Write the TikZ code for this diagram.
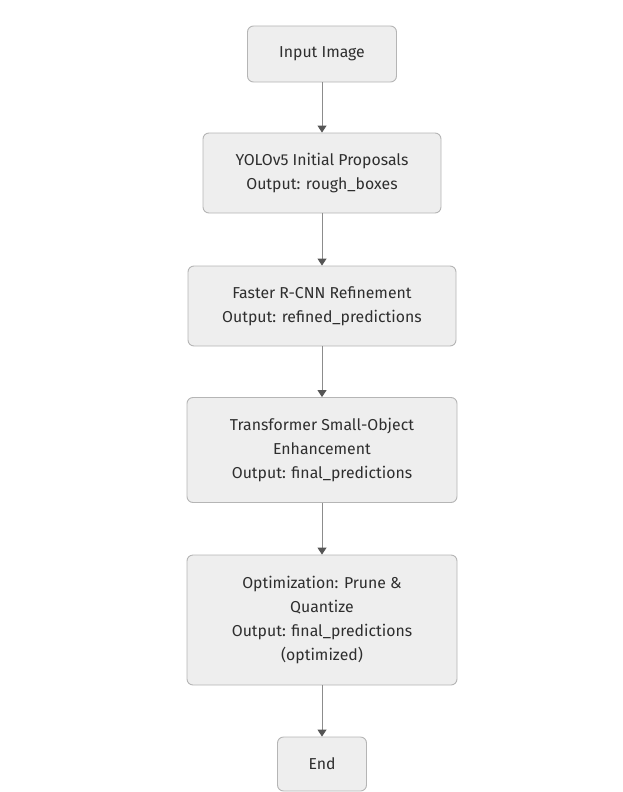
\documentclass[tikz,border=0pt]{standalone}
\usepackage{fontspec}
\setmainfont{Fira Sans}
\usetikzlibrary{arrows.meta}
\definecolor{boxfill}{HTML}{EEEEEE}
\definecolor{boxline}{HTML}{B5B5B5}
\definecolor{flowline}{HTML}{8C8C8C}
\definecolor{tipcol}{HTML}{555555}
\tikzset{
  stage/.style={draw=boxline, fill=boxfill, rounded corners=6pt, line width=0.9pt,
    align=center, font=\fontsize{15.8}{24}\selectfont, text=black!82, inner sep=0pt},
  flow/.style={draw=flowline, line width=1pt,
    -{Triangle[width=9pt,length=7pt,color=tipcol,fill=tipcol]}}
}

\begin{document}
\begin{tikzpicture}[x=1pt,y=-1pt]
      \useasboundingbox (0,0) rectangle (622,792);
      \node[stage, minimum width=149pt, minimum height=56pt] (input) at (322,54) {Input Image};
      \node[stage, minimum width=238pt, minimum height=80pt] (yolo) at (322,173) {YOLOv5 Initial Proposals\\Output: rough\_boxes};
      \node[stage, minimum width=268pt, minimum height=80pt] (rcnn) at (322,306) {Faster R-CNN Refinement\\Output: refined\_predictions};
      \node[stage, minimum width=270pt, minimum height=105pt] (trans) at (322,450) {Transformer Small-Object\\Enhancement\\Output: final\_predictions};
      \node[stage, minimum width=270pt, minimum height=130pt] (optim) at (322,620) {Optimization: Prune \&\\Quantize\\Output: final\_predictions\\(optimized)};
      \node[stage, minimum width=89pt, minimum height=54pt] (end) at (322,764) {End};
      \draw[flow] (input) -- (yolo);
      \draw[flow] (yolo) -- (rcnn);
      \draw[flow] (rcnn) -- (trans);
      \draw[flow] (trans) -- (optim);
      \draw[flow] (optim) -- (end);
\end{tikzpicture}
\end{document}
